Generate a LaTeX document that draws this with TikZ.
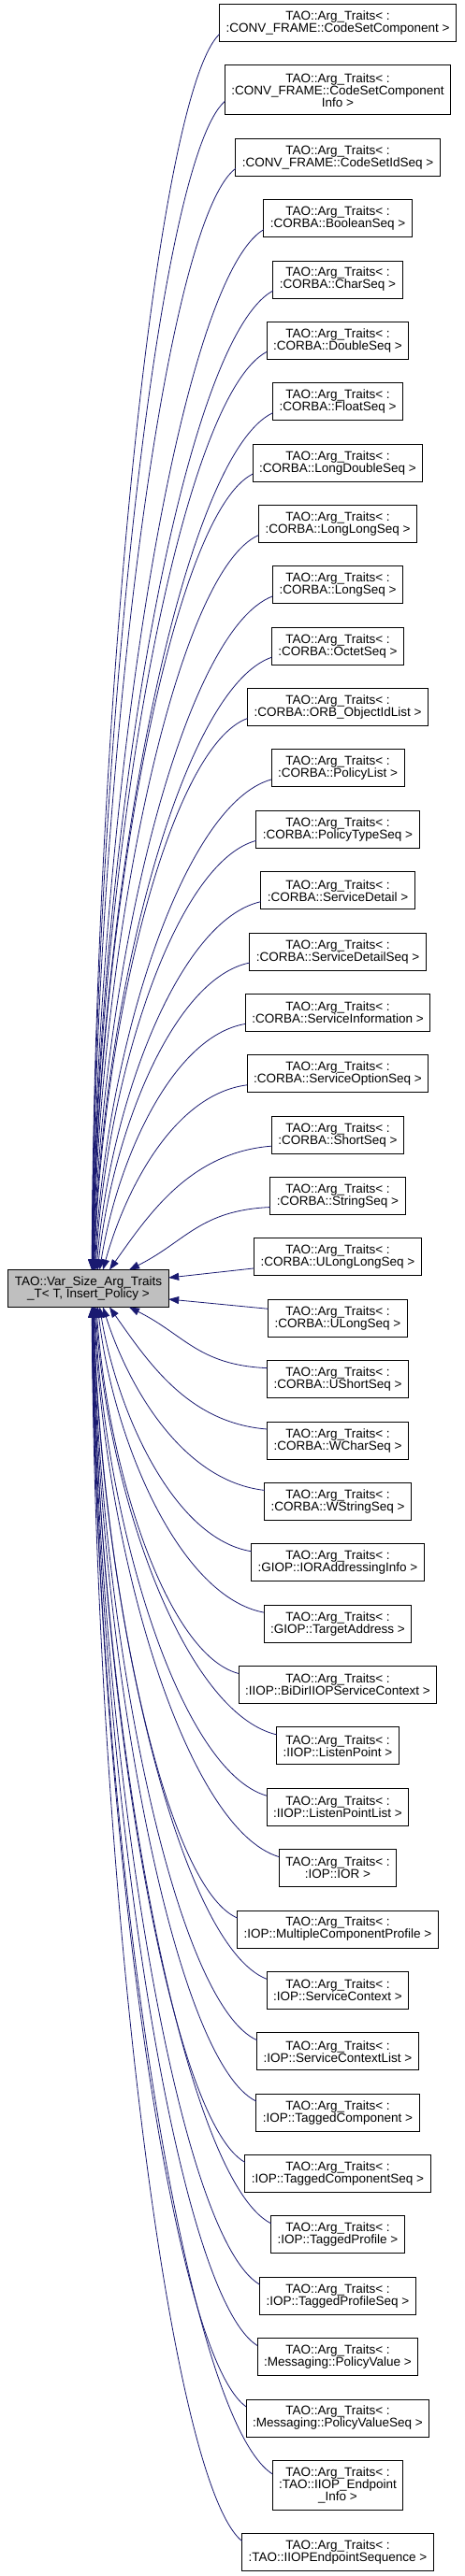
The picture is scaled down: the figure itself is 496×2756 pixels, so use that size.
\documentclass[tikz,border=0pt]{standalone}
\usepackage{fontspec}
\setmainfont{Liberation Sans}
\usepackage{xcolor}
\usetikzlibrary{arrows.meta,positioning,calc}
\definecolor{edgeblue}{HTML}{191970}
\definecolor{basegray}{HTML}{BFBFBF}

\begin{document}
\begin{tikzpicture}[x=1pt,y=-1pt]
\tikzset{node distance=25.37pt}
\tikzset{cls/.style={draw=black,line width=0.9pt,fill=white,align=center,minimum height=40pt,inner xsep=7pt,inner ysep=2pt,outer sep=0pt,font=\fontsize{13.5}{13}\selectfont}}
\tikzset{tall/.style={cls,minimum height=53pt}}
\tikzset{inh/.style={draw=edgeblue,line width=0.8pt,{Triangle[length=11pt,width=8pt]}-}}

\useasboundingbox (0,0) rectangle (496,2756);

\node[cls,fill=basegray] (base) at (94.5,1378.5) {TAO::Var\_Size\_Arg\_Traits\\\_T< T, Insert\_Policy >};

\node[cls] (d1) at (361,24.5) {TAO::Arg\_Traits< :\\:CONV\_FRAME::CodeSetComponent >};
\node[tall,below=of d1] (d2) {TAO::Arg\_Traits< :\\:CONV\_FRAME::CodeSetComponent\\Info >};
\node[cls,below=of d2] (d3) {TAO::Arg\_Traits< :\\:CONV\_FRAME::CodeSetIdSeq >};
\node[cls,below=of d3] (d4) {TAO::Arg\_Traits< :\\:CORBA::BooleanSeq >};
\node[cls,below=of d4] (d5) {TAO::Arg\_Traits< :\\:CORBA::CharSeq >};
\node[cls,below=of d5] (d6) {TAO::Arg\_Traits< :\\:CORBA::DoubleSeq >};
\node[cls,below=of d6] (d7) {TAO::Arg\_Traits< :\\:CORBA::FloatSeq >};
\node[cls,below=of d7] (d8) {TAO::Arg\_Traits< :\\:CORBA::LongDoubleSeq >};
\node[cls,below=of d8] (d9) {TAO::Arg\_Traits< :\\:CORBA::LongLongSeq >};
\node[cls,below=of d9] (d10) {TAO::Arg\_Traits< :\\:CORBA::LongSeq >};
\node[cls,below=of d10] (d11) {TAO::Arg\_Traits< :\\:CORBA::OctetSeq >};
\node[cls,below=of d11] (d12) {TAO::Arg\_Traits< :\\:CORBA::ORB\_ObjectIdList >};
\node[cls,below=of d12] (d13) {TAO::Arg\_Traits< :\\:CORBA::PolicyList >};
\node[cls,below=of d13] (d14) {TAO::Arg\_Traits< :\\:CORBA::PolicyTypeSeq >};
\node[cls,below=of d14] (d15) {TAO::Arg\_Traits< :\\:CORBA::ServiceDetail >};
\node[cls,below=of d15] (d16) {TAO::Arg\_Traits< :\\:CORBA::ServiceDetailSeq >};
\node[cls,below=of d16] (d17) {TAO::Arg\_Traits< :\\:CORBA::ServiceInformation >};
\node[cls,below=of d17] (d18) {TAO::Arg\_Traits< :\\:CORBA::ServiceOptionSeq >};
\node[cls,below=of d18] (d19) {TAO::Arg\_Traits< :\\:CORBA::ShortSeq >};
\node[cls,below=of d19] (d20) {TAO::Arg\_Traits< :\\:CORBA::StringSeq >};
\node[cls,below=of d20] (d21) {TAO::Arg\_Traits< :\\:CORBA::ULongLongSeq >};
\node[cls,below=of d21] (d22) {TAO::Arg\_Traits< :\\:CORBA::ULongSeq >};
\node[cls,below=of d22] (d23) {TAO::Arg\_Traits< :\\:CORBA::UShortSeq >};
\node[cls,below=of d23] (d24) {TAO::Arg\_Traits< :\\:CORBA::WCharSeq >};
\node[cls,below=of d24] (d25) {TAO::Arg\_Traits< :\\:CORBA::WStringSeq >};
\node[cls,below=of d25] (d26) {TAO::Arg\_Traits< :\\:GIOP::IORAddressingInfo >};
\node[cls,below=of d26] (d27) {TAO::Arg\_Traits< :\\:GIOP::TargetAddress >};
\node[cls,below=of d27] (d28) {TAO::Arg\_Traits< :\\:IIOP::BiDirIIOPServiceContext >};
\node[cls,below=of d28] (d29) {TAO::Arg\_Traits< :\\:IIOP::ListenPoint >};
\node[cls,below=of d29] (d30) {TAO::Arg\_Traits< :\\:IIOP::ListenPointList >};
\node[cls,below=of d30] (d31) {TAO::Arg\_Traits< :\\:IOP::IOR >};
\node[cls,below=of d31] (d32) {TAO::Arg\_Traits< :\\:IOP::MultipleComponentProfile >};
\node[cls,below=of d32] (d33) {TAO::Arg\_Traits< :\\:IOP::ServiceContext >};
\node[cls,below=of d33] (d34) {TAO::Arg\_Traits< :\\:IOP::ServiceContextList >};
\node[cls,below=of d34] (d35) {TAO::Arg\_Traits< :\\:IOP::TaggedComponent >};
\node[cls,below=of d35] (d36) {TAO::Arg\_Traits< :\\:IOP::TaggedComponentSeq >};
\node[cls,below=of d36] (d37) {TAO::Arg\_Traits< :\\:IOP::TaggedProfile >};
\node[cls,below=of d37] (d38) {TAO::Arg\_Traits< :\\:IOP::TaggedProfileSeq >};
\node[cls,below=of d38] (d39) {TAO::Arg\_Traits< :\\:Messaging::PolicyValue >};
\node[cls,below=of d39] (d40) {TAO::Arg\_Traits< :\\:Messaging::PolicyValueSeq >};
\node[tall,below=of d40] (d41) {TAO::Arg\_Traits< :\\:TAO::IIOP\_Endpoint\\\_Info >};
\node[cls,below=of d41] (d42) {TAO::Arg\_Traits< :\\:TAO::IIOPEndpointSequence >};

\foreach \k in {1,...,20}{
  \pgfmathsetmacro\dd{21-\k}
  \draw[inh] let \p1=([yshift=-12pt]d\k.west), \p2=([xshift={(1.5+42/\dd)*1pt}]base.north), \n1={min(1,80/abs((\y1)-(\y2)))} in
    (\p2) .. controls ({\x2+0.4*((\x1)-(\x2))*\n1},{\y2+0.45*((\y1)-(\y2))}) and ({\x1-0.5*((\x1)-(\x2))},{\y1-0.05*((\y1)-(\y2))}) .. (\p1);
}
\foreach \k in {23,...,42}{
  \pgfmathsetmacro\dd{\k-22}
  \draw[inh] let \p1=([yshift=12pt]d\k.west), \p2=([xshift={(1.5+42/\dd)*1pt}]base.south), \n1={min(1,80/abs((\y1)-(\y2)))} in
    (\p2) .. controls ({\x2+0.4*((\x1)-(\x2))*\n1},{\y2+0.45*((\y1)-(\y2))}) and ({\x1-0.5*((\x1)-(\x2))},{\y1-0.05*((\y1)-(\y2))}) .. (\p1);
}
\draw[inh] ([yshift=11.5pt]base.east) -- ([yshift=-12pt]d21.west);
\draw[inh] ([yshift=-11.5pt]base.east) -- ([yshift=10pt]d22.west);

\end{tikzpicture}
\end{document}
